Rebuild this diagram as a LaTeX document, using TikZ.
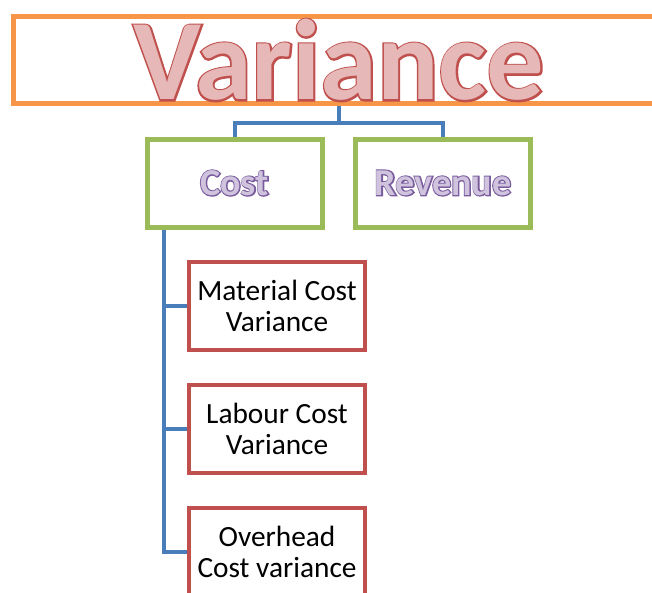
\documentclass[tikz,border=0pt]{standalone}
\usepackage{fontspec}
\setmainfont{Carlito}
\usetikzlibrary{backgrounds}

\definecolor{orangeline}{HTML}{F79646}
\definecolor{greenline}{HTML}{9BBB59}
\definecolor{redline}{HTML}{C0504D}
\definecolor{blueline}{HTML}{4A7EBB}
\definecolor{pinkfill}{HTML}{E6B9B8}
\definecolor{purpleline}{HTML}{7A5C9E}
\definecolor{purplefill}{HTML}{CFC3DE}

% bold face twice: a stroked copy underneath gives the outline
\newfontfamily\fillface{Carlito Bold}
\newfontfamily\edgeface{Carlito Bold}[FakeBold=3]
\newfontfamily\thickedgeface{Carlito Bold}[FakeBold=6]
\newcommand\outlined[3]{%
  \rlap{\edgeface\color{#1}#3}{\fillface\color{#2}#3}}
\newcommand\smalloutlined[3]{%
  \rlap{\thickedgeface\color{#1}#3}{\fillface\color{#2}#3}}

\tikzset{
  headbox/.style={draw=orangeline, line width=3.75pt, fill=white,
    minimum width=489pt, minimum height=64.5pt, inner sep=0pt},
  groupbox/.style={draw=greenline, line width=3.75pt, fill=white,
    minimum width=131.25pt, minimum height=66pt, inner sep=0pt,
    font=\fontsize{28.5}{30}\selectfont},
  itembox/.style={draw=redline, line width=3pt, fill=white,
    minimum width=132pt, minimum height=66pt, inner sep=0pt, align=center,
    font=\fontsize{22}{23.25}\selectfont},
  link/.style={draw=blueline, line width=3pt}
}

\begin{document}
\begin{tikzpicture}[x=0.75pt, y=-0.75pt]
  \clip (0,0) rectangle (652,592);
  % title
  \node[headbox] (variance) at (339,60)
    {\fontsize{86}{90}\selectfont\outlined{redline}{pinkfill}{Variance}};
  % first level
  \node[groupbox] (cost) at (234.5,183) {\smalloutlined{purpleline}{purplefill}{Cost}};
  \node[groupbox] (revenue) at (443,183) {\smalloutlined{purpleline}{purplefill}{Revenue}};
  % cost variances
  \node[itembox] (material) at (277,306) {Material Cost\\Variance};
  \node[itembox] (labour) at (277,429) {Labour Cost\\Variance};
  \node[itembox] (overhead) at (277,552) {Overhead\\Cost variance};
  % tree lines
  \coordinate (fork) at (339,123);
  \coordinate (trunk) at (164,227);
  \begin{scope}[on background layer]
    \draw[link] (variance.south) -- (fork);
    \draw[link] (cost.north) |- (fork) -| (revenue.north);
    \foreach \item in {material,labour,overhead}
      \draw[link] (trunk) |- (\item.west);
  \end{scope}
\end{tikzpicture}
\end{document}
